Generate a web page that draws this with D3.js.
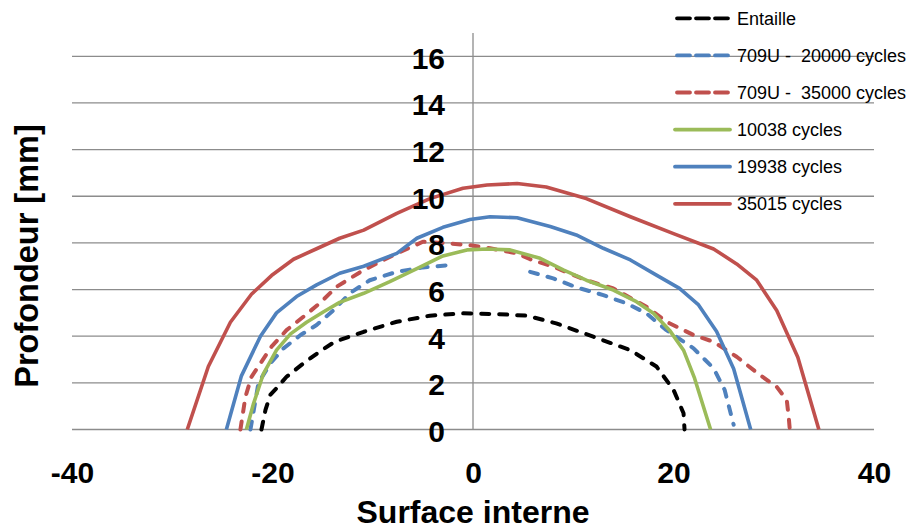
<!DOCTYPE html>
<html>
<head>
<meta charset="utf-8">
<script src="https://cdn.jsdelivr.net/npm/d3@7"></script>
<style>
  html, body { margin: 0; padding: 0; background: #fff; }
  svg { display: block; }
  text { font-family: "Liberation Sans", Arial, sans-serif; }
</style>
</head>
<body>
<svg id="chart" width="911" height="530"></svg>
<script>
// ---- Data ----
const seriesNames = ["Entaille", "709U -  20000 cycles", "709U -  35000 cycles", "10038 cycles", "19938 cycles", "35015 cycles"];

const entailleX = [-21.1,-20.7,-20.2,-19.6,-18.6,-16.9,-15.3,-13.8,-10.9,-7.6,-4.3,-1,2.4,5.4,8.3,12,15.7,18.3,20,21,21.1];
const entailleY = [0,0.84,1.5,1.77,2.26,2.84,3.34,3.76,4.19,4.62,4.88,4.98,4.95,4.88,4.55,3.98,3.4,2.7,1.7,0.7,0];

const u20000X = [-22.2,-21.4,-20.2,-18.9,-17.2,-15.6,-13.9,-12.3,-10.3,-7.6,-5,-2.3,1.7,5.7,8,10.3,13,15.3,17.3,19.3,22,24,25.1,26];
const u20000Y = [0,2.0,2.84,3.48,4.05,4.48,5.12,5.84,6.4,6.76,6.95,7.05,null,6.76,6.48,6.1,5.76,5.41,4.98,4.26,3.48,2.62,1.7,0.2];

const u35000X = [-23.2,-22.7,-22.1,-21.2,-20.1,-18.6,-16.9,-15.3,-13.6,-10.9,-7.6,-5,-3,-0.3,1.7,4.4,5.7,8,11.3,14,17.3,19.3,22,24,26.3,28.6,30.3,31.3,31.5,31.6];
const u35000Y = [0,1.4,2.26,2.84,3.55,4.26,4.84,5.41,6.12,6.84,7.55,8.05,8.0,7.9,7.77,7.55,7.3,6.98,6.4,6.05,5.26,4.62,4.05,3.76,3.12,2.34,1.83,1.26,0.5,0];

const c10038X = [-22.6,-21.9,-20.9,-19.6,-18.2,-16.6,-14.9,-13.3,-10.9,-8.3,-5.6,-3,-0.6,1.4,3.7,6.7,9,11.3,14,16.3,18,19.6,21,22.1,23.7];
const c10038Y = [0,1.1,2.4,3.4,4.1,4.6,5.05,5.45,5.84,6.34,6.9,7.44,7.7,7.74,7.7,7.34,6.84,6.4,5.98,5.48,4.98,4.26,3.4,2.2,0];

const c19938X = [-24.6,-23.1,-21.2,-19.6,-17.6,-15.6,-13.3,-10.9,-7.6,-5.6,-3,-0.3,1.7,4.4,7.7,10.3,13,15.7,18.3,20.6,22.5,24.3,26,27.7];
const c19938Y = [0,2.3,4.0,5.0,5.7,6.2,6.7,7.0,7.55,8.2,8.67,9.0,9.12,9.08,8.7,8.34,7.77,7.27,6.62,6.05,5.34,4.2,2.6,0];

const c35015X = [-28.5,-26.4,-24.2,-22.1,-20.1,-17.9,-15.6,-13.3,-10.9,-7.6,-4.3,-1,1.4,4.4,7.3,11.3,15.7,20,24,26.3,28.3,30.3,32.4,34.5];
const c35015Y = [0,2.7,4.6,5.8,6.6,7.3,7.75,8.2,8.55,9.27,9.9,10.34,10.48,10.55,10.4,9.9,9.12,8.4,7.74,7.1,6.4,5.1,3.1,0];

const xTicks = [-40, -20, 0, 20, 40];
const yTicks = [0, 2, 4, 6, 8, 10, 12, 14, 16];
const xTitle = "Surface interne";
const yTitle = "Profondeur [mm]";

// ---- Styles ----
const colors = ["#000000", "#4F81BD", "#C0504D", "#9BBB59", "#4F81BD", "#C0504D"];
const dashed = [true, true, true, false, false, false];
const seriesX = [entailleX, u20000X, u35000X, c10038X, c19938X, c35015X];
const seriesY = [entailleY, u20000Y, u35000Y, c10038Y, c19938Y, c35015Y];

const svg = d3.select("#chart");
const x = d3.scaleLinear().domain([-40, 40]).range([72, 874]);
const y = d3.scaleLinear().domain([0, 17]).range([429.5, 33]);

// gridlines
svg.append("g").selectAll("line").data(yTicks).join("line")
  .attr("x1", x(-40)).attr("x2", x(40))
  .attr("y1", d => y(d)).attr("y2", d => y(d))
  .attr("stroke", "#8c8c8c").attr("stroke-width", 1.3);

// vertical axis line at x=0
svg.append("line")
  .attr("x1", x(0)).attr("x2", x(0))
  .attr("y1", y(17)).attr("y2", y(0))
  .attr("stroke", "#8c8c8c").attr("stroke-width", 1.3);

// series
const line = d3.line()
  .defined(d => d[1] !== null)
  .x(d => x(d[0])).y(d => y(d[1]));

seriesX.forEach((xs, i) => {
  const pts = xs.map((v, j) => [v, seriesY[i][j]]);
  svg.append("path")
    .attr("d", line(pts))
    .attr("fill", "none")
    .attr("stroke", colors[i])
    .attr("stroke-width", dashed[i] ? 4 : 3.6)
    .attr("stroke-linejoin", "round")
    .attr("stroke-linecap", dashed[i] ? "round" : "butt")
    .attr("stroke-dasharray", dashed[i] ? "8,10" : null);
});

// y axis labels
const yAxis = svg.append("g")
  .attr("transform", `translate(${x(0)},0)`)
  .call(d3.axisLeft(y).tickValues(yTicks).tickSize(0).tickPadding(28).tickFormat(d => String(d)));
yAxis.select(".domain").remove();
yAxis.selectAll("text")
  .attr("dy", "0.4em")
  .style("font-family", "'Liberation Sans', Arial, sans-serif")
  .style("font-size", "30px").style("font-weight", "bold").attr("fill", "#000");

// x axis labels
const xAxis = svg.append("g")
  .attr("transform", `translate(0,${y(0)})`)
  .call(d3.axisBottom(x).tickValues(xTicks).tickSize(0).tickPadding(32).tickFormat(d => String(d)));
xAxis.select(".domain").remove();
xAxis.selectAll("text")
  .style("font-family", "'Liberation Sans', Arial, sans-serif")
  .style("font-size", "30px").style("font-weight", "bold").attr("fill", "#000");

// axis titles
svg.append("text")
  .attr("x", x(0)).attr("y", 523)
  .attr("text-anchor", "middle")
  .style("font-size", "32px").style("font-weight", "bold")
  .text(xTitle);

svg.append("text")
  .attr("transform", "translate(38,256) rotate(-90)")
  .attr("text-anchor", "middle")
  .style("font-size", "32.5px").style("font-weight", "bold")
  .text(yTitle);

// legend
const legend = svg.append("g");
seriesNames.forEach((name, i) => {
  const ly = 18.3 + i * 37.1;
  legend.append("line")
    .attr("x1", dashed[i] ? 677 : 675).attr("x2", dashed[i] ? 728 : 730)
    .attr("y1", ly).attr("y2", ly)
    .attr("stroke", colors[i]).attr("stroke-width", 3.8)
    .attr("stroke-linecap", "round")
    .attr("stroke-dasharray", dashed[i] ? "13,6" : null);
  legend.append("text")
    .attr("x", 737).attr("y", ly + 6.3)
    .style("font-size", "18px")
    .style("white-space", "pre")
    .attr("fill", "#000")
    .text(name);
});
</script>
</body>
</html>
